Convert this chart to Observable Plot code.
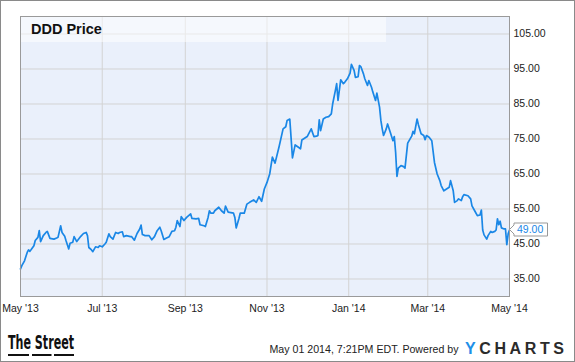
<!DOCTYPE html>
<html><head><meta charset="utf-8">
<script src="https://cdn.jsdelivr.net/npm/d3@7"></script>
<script src="https://cdn.jsdelivr.net/npm/@observablehq/plot@0.6"></script>
<style>
html,body{margin:0;padding:0;background:#fff;}
#wrap{position:relative;width:575px;height:362px;overflow:hidden;font-family:"Liberation Sans",Arial,sans-serif;}
#wrap svg{position:absolute;left:0;top:0;overflow:visible;}
#border{position:absolute;left:0;top:0;width:575px;height:362px;box-sizing:border-box;border:1px solid #8a8a8a;pointer-events:none;}
</style>
</head><body>
<div id="wrap"></div>
<script>
const title = "DDD Price";
const footerText = "May 01 2014, 7:21PM EDT. Powered by";
const dates = [
"2013-05-01","2013-05-02","2013-05-04","2013-05-06","2013-05-07","2013-05-08","2013-05-09","2013-05-11","2013-05-12","2013-05-14",
"2013-05-15","2013-05-16","2013-05-18","2013-05-20","2013-05-21","2013-05-23","2013-05-26","2013-05-28","2013-05-29","2013-05-31",
"2013-06-01","2013-06-03","2013-06-04","2013-06-06","2013-06-07","2013-06-09","2013-06-10","2013-06-12","2013-06-15","2013-06-17",
"2013-06-19","2013-06-20","2013-06-21","2013-06-23","2013-06-24","2013-06-26","2013-06-28","2013-06-29","2013-07-01","2013-07-03",
"2013-07-04","2013-07-06","2013-07-07","2013-07-09","2013-07-11","2013-07-13","2013-07-14","2013-07-16","2013-07-17","2013-07-19",
"2013-07-22","2013-07-23","2013-07-25","2013-07-27","2013-07-29","2013-07-30","2013-07-31","2013-08-02","2013-08-05","2013-08-07",
"2013-08-09","2013-08-11","2013-08-13","2013-08-14","2013-08-16","2013-08-18","2013-08-20","2013-08-22","2013-08-24","2013-08-25",
"2013-08-26","2013-08-28","2013-08-29","2013-08-31","2013-09-02","2013-09-05","2013-09-06","2013-09-09","2013-09-11","2013-09-12",
"2013-09-15","2013-09-16","2013-09-18","2013-09-19","2013-09-20","2013-09-22","2013-09-23","2013-09-26","2013-09-28","2013-09-30",
"2013-10-01","2013-10-03","2013-10-07","2013-10-08","2013-10-09","2013-10-11","2013-10-12","2013-10-15","2013-10-17","2013-10-19",
"2013-10-22","2013-10-24","2013-10-26","2013-10-28","2013-10-30","2013-11-01","2013-11-03","2013-11-05","2013-11-07","2013-11-10",
"2013-11-13","2013-11-15","2013-11-16","2013-11-18","2013-11-20","2013-11-22","2013-11-25","2013-11-26","2013-11-27","2013-12-01",
"2013-12-04","2013-12-06","2013-12-08","2013-12-09","2013-12-10","2013-12-11","2013-12-13","2013-12-15","2013-12-17","2013-12-19",
"2013-12-20","2013-12-22","2013-12-23","2013-12-24","2013-12-26","2013-12-28","2013-12-29","2013-12-31","2014-01-02","2014-01-03",
"2014-01-05","2014-01-06","2014-01-08","2014-01-09","2014-01-10","2014-01-12","2014-01-13","2014-01-15","2014-01-16","2014-01-18",
"2014-01-19","2014-01-21","2014-01-22","2014-01-24","2014-01-25","2014-01-26","2014-01-27","2014-01-29","2014-01-30","2014-02-01",
"2014-02-03","2014-02-04","2014-02-05","2014-02-06","2014-02-07","2014-02-09","2014-02-11","2014-02-12","2014-02-14","2014-02-17",
"2014-02-18","2014-02-19","2014-02-21","2014-02-22","2014-02-24","2014-02-26","2014-02-27","2014-02-28","2014-03-02","2014-03-04",
"2014-03-06","2014-03-08","2014-03-10","2014-03-11","2014-03-13","2014-03-15","2014-03-17","2014-03-18","2014-03-20","2014-03-21",
"2014-03-23","2014-03-24","2014-03-26","2014-03-27","2014-03-28","2014-03-31","2014-04-02","2014-04-03","2014-04-05","2014-04-07",
"2014-04-09","2014-04-10","2014-04-11","2014-04-12","2014-04-14","2014-04-15","2014-04-17","2014-04-18","2014-04-20","2014-04-21",
"2014-04-22","2014-04-23","2014-04-24","2014-04-25","2014-04-27","2014-04-28","2014-04-29","2014-04-30","2014-05-01"
];
const prices = [
37.9,38.8,40.2,42.6,43.3,42.9,43.4,44.5,46.0,46.9,
48.8,45.7,47.4,48.3,48.6,46.6,46.4,46.7,46.9,50.2,
48.3,47.2,45.9,43.6,45.2,45.5,47.1,45.7,47.2,48.0,
48.3,47.4,44.0,43.3,42.8,44.2,44.0,44.5,44.2,45.0,
45.5,47.9,47.1,46.4,48.3,48.0,48.3,48.5,47.1,47.4,
47.1,47.1,46.1,48.0,49.3,50.4,47.7,47.4,47.4,46.2,
47.1,48.8,49.8,48.8,46.3,46.7,47.1,48.6,48.8,49.8,
51.7,50.0,52.8,51.7,52.6,53.6,52.3,52.2,52.3,50.5,
50.2,50.0,52.6,54.5,53.8,53.8,54.5,55.5,54.5,53.8,
55.8,54.1,53.8,52.6,49.6,52.2,53.8,53.8,56.4,56.9,
57.6,56.9,58.5,57.2,60.7,62.6,65.0,69.8,68.1,72.8,
77.9,78.5,80.3,80.7,69.6,73.3,72.5,72.2,74.7,75.7,
77.9,75.7,75.8,76.0,80.5,77.4,80.7,81.2,81.4,82.2,
85.0,88.8,90.8,86.0,91.9,90.8,91.2,92.2,93.8,96.3,
94.6,92.6,92.8,96.0,95.7,93.6,92.2,90.3,91.7,89.8,
88.4,86.0,88.1,84.1,80.3,77.9,76.0,77.9,79.3,76.9,
74.5,75.7,71.2,64.3,66.7,67.4,67.1,66.7,73.8,75.8,
77.2,76.5,80.7,79.1,76.5,76.0,74.8,76.0,75.5,74.5,
68.3,65.0,63.1,61.7,60.2,60.7,61.2,63.1,60.2,56.9,
57.4,57.9,57.4,58.5,59.1,58.8,57.9,55.9,54.5,53.1,
53.3,54.7,49.0,47.6,46.4,47.4,48.6,48.3,48.6,49.0,
52.2,50.5,51.5,49.6,49.3,49.3,44.8,47.9,49.0
];
const yTicks = [35, 45, 55, 65, 75, 85, 95, 105];
const xTickDates = ["2013-05-01","2013-07-01","2013-09-01","2013-11-01","2014-01-01","2014-03-01","2014-05-01"];
const xDomain = ["2013-05-01","2014-05-01"];
const yDomain = [30, 110];

const data = dates.map((d, i) => ({date: new Date(d), price: prices[i]}));
const xTicks = xTickDates.map(d => new Date(d));
const lineColor = "#1a87e6";
const gridColor = "#d3d3d3";

const plot = Plot.plot({
  width: 575, height: 362,
  marginLeft: 20, marginRight: 66, marginTop: 16, marginBottom: 66,
  x: {type: "utc", domain: xDomain.map(d => new Date(d)), label: null},
  y: {domain: yDomain, label: null},
  style: {fontFamily: "'Liberation Sans', Arial, sans-serif", fontSize: "10.5px", background: "transparent", color: "#222", overflow: "visible"},
  marks: [
    Plot.frame({fill: "#eaf0fb", stroke: null}),
    Plot.gridX(xTicks, {stroke: gridColor, strokeOpacity: 1}),
    Plot.gridY(yTicks, {stroke: gridColor, strokeOpacity: 1}),
    Plot.line(data, {x: "date", y: "price", stroke: lineColor, strokeWidth: 1.7}),
    Plot.frame({stroke: "#9a9a9a"}),
    Plot.axisY(yTicks, {anchor: "right", tickSize: 0, tickPadding: 4, tickFormat: d3.format(".2f"), fill: "#222", label: null}),
    Plot.axisX(xTicks, {anchor: "bottom", tickSize: 0, tickPadding: 8, tickFormat: d3.utcFormat("%b '%y"), fill: "#222", label: null})
  ]
});
const wrap = document.getElementById("wrap");
wrap.appendChild(plot);

// last-value callout positioned through the plot's scales
const sx = plot.scale("x"), sy = plot.scale("y");
const last = data[data.length - 1];
const px = sx.apply(last.date), py = sy.apply(last.price);
const g = d3.select(plot).append("g");
g.append("path")
  .attr("d", `M${px+5},${py-6.5}H${px+38.5}V${py+6.5}H${px+5}V${py+4.5}L${px+0.5},${py}L${px+5},${py-4.5}Z`)
  .attr("fill", "#fff").attr("stroke", "#999").attr("stroke-width", 1);
g.append("text").attr("x", px + 8).attr("y", py).attr("dy", "0.35em")
  .attr("fill", lineColor).attr("font-size", "10.5px").attr("text-anchor", "start")
  .attr("font-family", "'Liberation Sans', Arial, sans-serif")
  .text(d3.format(".2f")(last.price));

// decorations: title band, title, footer
const over = d3.select(wrap).append("svg").attr("width", 575).attr("height", 362)
  .style("pointer-events", "none");
over.append("rect").attr("x", 21).attr("y", 17).attr("width", 365).attr("height", 25)
  .attr("fill", "#fff").attr("fill-opacity", 0.5);
over.append("text").attr("x", 31).attr("y", 34).attr("font-size", "14.5px").attr("font-weight", "bold")
  .attr("font-family", "'Liberation Sans', Arial, sans-serif").attr("fill", "#111").text(title);
over.append("text").attr("x", 8).attr("y", 349).attr("font-size", "20px").attr("font-weight", "bold")
  .attr("font-family", "'Liberation Sans Narrow', 'DejaVu Sans Condensed', sans-serif")
  .attr("textLength", 66).attr("lengthAdjust", "spacingAndGlyphs").attr("fill", "#111").text("The Street");
[[8, 29], [32, 51.5], [54, 74]].forEach(([a, b]) => {
  over.append("rect").attr("x", a).attr("y", 354).attr("width", b - a).attr("height", 2).attr("fill", "#111");
});
over.append("text").attr("x", 269.5).attr("y", 352.7).attr("font-size", "11px")
  .attr("font-family", "'Liberation Sans', Arial, sans-serif").attr("fill", "#222")
  .attr("textLength", 189).attr("lengthAdjust", "spacingAndGlyphs").text(footerText);
const yc = over.append("text").attr("x", 465).attr("y", 353.7).attr("font-size", "16px").attr("font-weight", "bold")
  .attr("font-family", "'Liberation Sans', Arial, sans-serif").attr("textLength", 99).attr("lengthAdjust", "spacing");
yc.append("tspan").attr("fill", "#1e90e8").text("Y");
yc.append("tspan").attr("fill", "#2b2b2b").text("CHARTS");

const border = document.createElement("div");
border.id = "border";
wrap.appendChild(border);
</script>
</body></html>
